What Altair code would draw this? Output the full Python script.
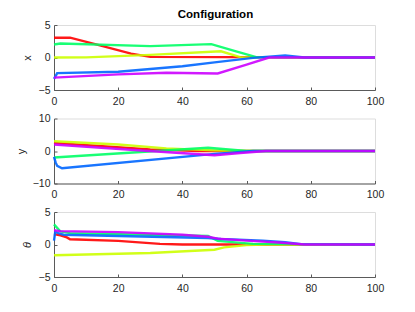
import altair as alt
import pandas as pd

series = ["s1", "s2", "s3", "s4", "s5"]
colors = ["#ff0000", "#ccff00", "#00ff66", "#0066ff", "#cc00ff"]

# Panel x
x_t = {
    "s1": [0, 5, 14, 24, 30, 100],
    "s2": [0, 10, 30, 52, 58, 100],
    "s3": [0, 2, 30, 49, 57, 63, 100],
    "s4": [0, 1, 20, 40, 50, 62, 72, 78, 100],
    "s5": [0, 20, 35, 51, 60, 67, 100],
}
x_v = {
    "s1": [3.05, 3.05, 1.9, 0.6, 0.1, 0],
    "s2": [0, 0.02, 0.4, 0.95, 0.05, 0],
    "s3": [2.0, 2.15, 1.75, 2.05, 0.9, 0.05, 0],
    "s4": [-3.3, -2.4, -2.2, -1.35, -0.75, -0.05, 0.3, 0, 0],
    "s5": [-3.1, -2.6, -2.35, -2.45, -1.1, 0, 0],
}
# Panel y
y_t = {
    "s1": [0, 15, 30, 45, 100],
    "s2": [0, 20, 35, 50, 60, 100],
    "s3": [0, 48, 60, 100],
    "s4": [0, 0.5, 1, 2.5, 50, 62, 100],
    "s5": [0, 25, 50, 58, 66, 100],
}
y_v = {
    "s1": [2.5, 1.5, 0.5, 0, 0],
    "s2": [3.0, 2.0, 0.8, 0.2, 0, 0],
    "s3": [-2.0, 1.0, 0, 0],
    "s4": [-1.8, -3.5, -4.6, -5.3, -0.9, 0, 0],
    "s5": [2.0, 0.3, -1.3, -0.6, 0, 0],
}
# Panel theta
th_t = {
    "s1": [0, 2, 4, 5, 20, 33, 40, 100],
    "s2": [0, 30, 50, 53, 60, 66, 100],
    "s3": [0, 2, 5, 48, 51, 62, 100],
    "s4": [0, 0.4, 1.5, 3, 48, 52, 65, 72, 77, 100],
    "s5": [0, 2, 20, 40, 48, 51, 60, 70, 78, 100],
}
th_v = {
    "s1": [1.6, 1.4, 1.1, 0.8, 0.55, 0.1, 0, 0],
    "s2": [-1.65, -1.3, -0.8, -0.45, -0.1, 0, 0],
    "s3": [3.1, 2.0, 1.75, 1.3, 0.55, 0.1, 0],
    "s4": [0.6, 2.0, 1.7, 1.5, 1.0, 0.85, 0.6, 0.35, 0.05, 0],
    "s5": [2.2, 2.05, 1.9, 1.5, 1.2, 0.9, 0.6, 0.3, 0, 0],
}

x_ticks = [0, 20, 40, 60, 80, 100]
W, H = 321, 65
FONT = "Liberation Sans"
AX = "#5a5a5a"
TX = "#262626"


def make_df(tt, vv):
    rows = []
    for i, s in enumerate(series):
        for t, v in zip(tt[s], vv[s]):
            rows.append({"t": t, "v": v, "s": s, "k": i})
    return pd.DataFrame(rows)


def panel(tt, vv, label, ydom, yvals, italic=False):
    df = make_df(tt, vv)
    xs = alt.Scale(domain=[0, 100], nice=False, zero=False)
    ys = alt.Scale(domain=ydom, nice=False, zero=False)
    col = alt.Color("s:N", scale=alt.Scale(domain=series, range=colors), legend=None)
    lines = alt.Chart(df).mark_line(strokeWidth=2.4, strokeOpacity=0.9).encode(
        x=alt.X("t:Q", scale=xs, axis=alt.Axis(
            values=x_ticks, title=None, grid=False, tickSize=0, labelPadding=6,
            domainColor=AX, labelColor=TX, labelFontSize=10.5, labelFont=FONT, labelFlush=False)),
        y=alt.Y("v:Q", scale=ys, axis=alt.Axis(
            values=yvals, title=label, grid=False, tickSize=0, labelPadding=4,
            domainColor=AX, labelColor=TX, labelFontSize=10.5, labelFont=FONT,
            titleFont=FONT, titleFontSize=11, titleFontWeight="normal",
            titleFontStyle="italic" if italic else "normal",
            titleColor=TX, titlePadding=6)),
        color=col,
        detail="s:N",
    )
    ticks = alt.Chart(df).mark_point(opacity=0).encode(
        x=alt.X("t:Q", scale=xs, axis=alt.Axis(
            orient="top", offset=-H, values=x_ticks, title=None, grid=False,
            labels=False, domain=False, tickSize=3, tickColor=AX)),
        y=alt.Y("v:Q", scale=ys, axis=alt.Axis(
            orient="right", offset=-W, values=yvals, title=None, grid=False,
            labels=False, domain=False, tickSize=3, tickColor=AX)),
    )
    return alt.layer(lines, ticks).resolve_axis(x="independent", y="independent").properties(
        width=W, height=H)


p1 = panel(x_t, x_v, "x", [-5, 5], [-5, 0, 5])
p2 = panel(y_t, y_v, "y", [-10, 10], [-10, 0, 10])
p3 = panel(th_t, th_v, "θ", [-5, 5], [-5, 0, 5], italic=True)

chart = alt.vconcat(p1, p2, p3, spacing=28.5, bounds="flush").properties(
    title=alt.TitleParams("Configuration", font=FONT, fontSize=11.5, fontWeight="bold",
                          color="#000000", anchor="middle", offset=-1, dx=16),
    padding={"left": 6, "top": 1, "right": 5, "bottom": 5},
).configure_view(strokeWidth=0).configure(background="white")

chart.save("out.html", embed_options={"renderer": "svg", "actions": False})
